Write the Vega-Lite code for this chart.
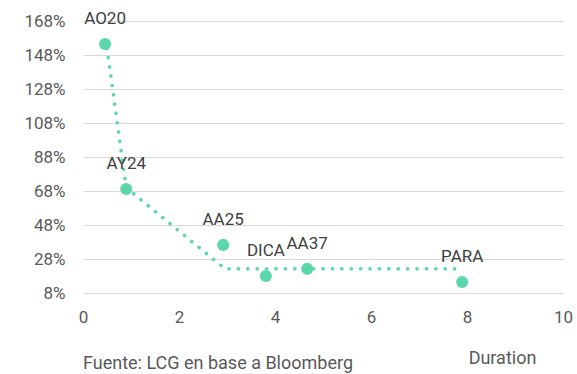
{
  "$schema": "https://vega.github.io/schema/vega-lite/v6.json",
  "width": 480,
  "height": 272,
  "autosize": {"type": "none"},
  "padding": {"left": 83, "top": 21, "right": 14, "bottom": 81},
  "background": "white",
  "config": {
    "view": {"stroke": null},
    "font": "Roboto",
    "axis": {"labelFont": "Roboto", "titleFont": "Roboto"}
  },
  "title": {
    "text": "Fuente: LCG en base a Bloomberg",
    "orient": "bottom",
    "anchor": "start",
    "frame": "group",
    "offset": -12,
    "font": "Roboto",
    "fontSize": 18,
    "fontWeight": "normal",
    "color": "#595959",
    "baseline": "top"
  },
  "datasets": {
    "bonds": [
      {"bond": "AO20", "duration": 0.46, "yield": 154.5},
      {"bond": "AY24", "duration": 0.9, "yield": 69.2},
      {"bond": "AA25", "duration": 2.92, "yield": 36.3},
      {"bond": "DICA", "duration": 3.81, "yield": 18.0},
      {"bond": "AA37", "duration": 4.67, "yield": 22.2},
      {"bond": "PARA", "duration": 7.9, "yield": 14.5}
    ],
    "fit": [
      {"duration": 0.5, "yield": 152},
      {"duration": 0.9, "yield": 70},
      {"duration": 2.96, "yield": 22.2},
      {"duration": 7.85, "yield": 22.2}
    ]
  },
  "layer": [
    {
      "data": {"name": "fit"},
      "mark": {"type": "line", "color": "#5BD7AA", "strokeWidth": 3.6, "strokeCap": "round", "strokeDash": [0.1, 9.3]},
      "encoding": {
        "x": {"field": "duration", "type": "quantitative", "scale": {"domain": [0, 10]},
          "axis": {"values": [0, 2, 4, 6, 8, 10], "tickCount": 12, "grid": false, "ticks": false, "domain": false,
            "labelFlush": false, "labelOverlap": false,
            "labelFontSize": 17, "labelColor": "#595959", "labelPadding": 16,
            "title": "Duration", "titleFontSize": 18, "titleFontWeight": "normal", "titleColor": "#595959",
            "titleX": 419, "titleY": 56, "titleAlign": "center", "titleBaseline": "top"}},
        "y": {"field": "yield", "type": "quantitative", "scale": {"domain": [8, 168], "nice": false, "zero": false},
          "axis": {"values": [8, 28, 48, 68, 88, 108, 128, 148, 168], "tickCount": 12, "labelExpr": "datum.value + '%'",
            "labelOverlap": false, "labelFlush": false,
            "grid": true, "gridColor": "#d9d9d9", "gridWidth": 1, "ticks": false, "domain": false,
            "labelFontSize": 17, "labelColor": "#595959", "labelPadding": 18, "title": null}}
      }
    },
    {
      "data": {"name": "bonds"},
      "mark": {"type": "circle", "color": "#5BD7AA", "opacity": 1, "size": 145},
      "encoding": {
        "x": {"field": "duration", "type": "quantitative"},
        "y": {"field": "yield", "type": "quantitative"}
      }
    },
    {
      "data": {"name": "bonds"},
      "mark": {"type": "text", "dy": -25, "fontSize": 17, "color": "#404040", "font": "Roboto"},
      "encoding": {
        "x": {"field": "duration", "type": "quantitative"},
        "y": {"field": "yield", "type": "quantitative"},
        "text": {"field": "bond"}
      }
    }
  ]
}
